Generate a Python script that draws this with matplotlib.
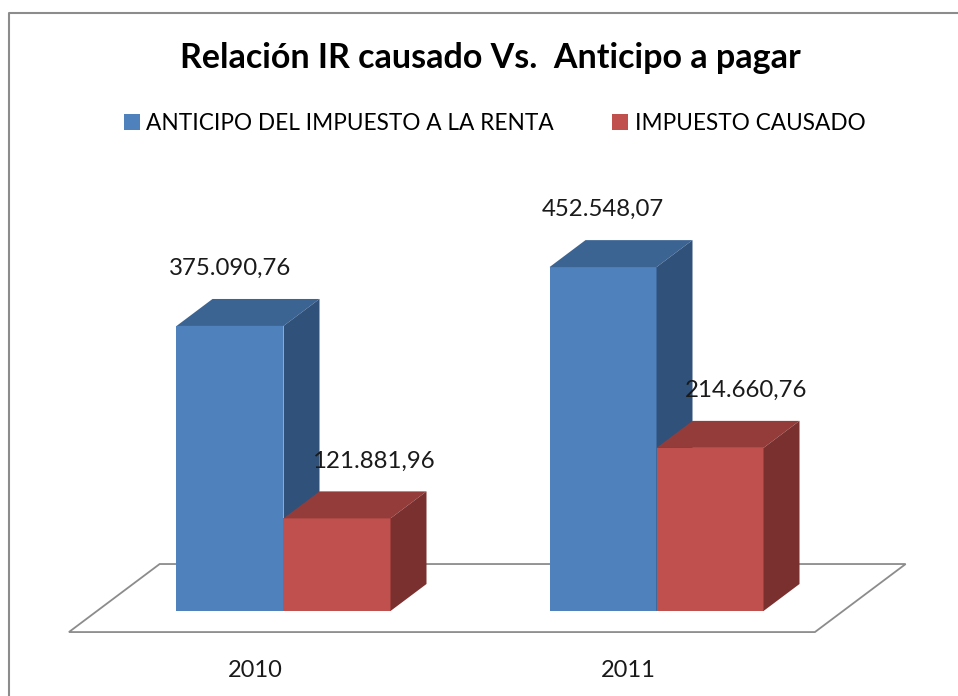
import matplotlib
matplotlib.use("Agg")
import matplotlib.pyplot as plt
from matplotlib.patches import Polygon, Patch
from matplotlib.lines import Line2D

# --- datos ---
years = ["2010", "2011"]
anticipo = [375090.76, 452548.07]
causado = [121881.96, 214660.76]
series_names = ["ANTICIPO DEL IMPUESTO A LA RENTA", "IMPUESTO CAUSADO"]
title = "Relación IR causado Vs.  Anticipo a pagar"

# colores estilo Excel 2007: frente, tapa, lado
colors = [("#4F81BD", "#3C6493", "#30527A"),
          ("#C0504D", "#933C3A", "#7A302F")]

W, H = 958, 696
X0_PX, UNIT_PX = 283.5, 373.0     # centro del grupo 2010 y separacion entre grupos
BASE_PX, VAL_PER_PX = 611.0, 1316.0

bar_w = 107 / UNIT_PX
ddx, ddy = 36 / UNIT_PX, 27 * VAL_PER_PX   # profundidad de las barras
floor_front, floor_back = -0.78, 1.74      # profundidad del piso (en unidades de barra)


def fmt(v):
    s = f"{v:,.2f}"
    return s.replace(",", "X").replace(".", ",").replace("X", ".")


plt.rcParams['font.family'] = ['Lato', 'DejaVu Sans']
fig = plt.figure(figsize=(W / 100, H / 100), dpi=100)
ax = fig.add_axes([0, 0, 1, 1])
ax.set_xlim(-X0_PX / UNIT_PX, (W - X0_PX) / UNIT_PX)
ax.set_ylim(-(H - BASE_PX) * VAL_PER_PX, BASE_PX * VAL_PER_PX)
ax.axis('off')

# marco del grafico
fx, fy = 8.5 / W, 1 - 13 / H
fig.add_artist(Line2D([fx, fx, 1.0], [0.0, fy, fy], transform=fig.transFigure,
                      color="#8c8c8c", lw=1.5))

# piso
n = len(years)
x_lo, x_hi = -0.5, n - 0.5
floor = [(x_lo + floor_front * ddx, floor_front * ddy),
         (x_hi + floor_front * ddx, floor_front * ddy),
         (x_hi + floor_back * ddx, floor_back * ddy),
         (x_lo + floor_back * ddx, floor_back * ddy)]
ax.add_patch(Polygon(floor, closed=True, facecolor="white", edgecolor="#8c8c8c",
                     lw=1.3, zorder=1))

# barras 3D
label_dx = [0.0, 36 / UNIT_PX]
for s, vals in enumerate([anticipo, causado]):
    front, top, side = colors[s]
    xs = [i + (s - 0.5) * bar_w for i in range(n)]
    ax.bar(xs, vals, width=bar_w, color=front, zorder=2 + s * 2, linewidth=0)
    for x, v in zip(xs, vals):
        l, r = x - bar_w / 2, x + bar_w / 2
        ax.add_patch(Polygon([(l, v), (r, v), (r + ddx, v + ddy), (l + ddx, v + ddy)],
                             closed=True, facecolor=top, lw=0, zorder=3 + s * 2))
        ax.add_patch(Polygon([(r, 0), (r + ddx, ddy), (r + ddx, v + ddy), (r, v)],
                             closed=True, facecolor=side, lw=0, zorder=3 + s * 2))
        ax.text(x + label_dx[s], v + 51 * VAL_PER_PX, fmt(v), ha='center', va='baseline',
                fontsize=17.3, color="#1a1a1a", zorder=10)

# etiquetas de categoria
for i, yr in enumerate(years):
    ax.text(i + floor_front * ddx, floor_front * ddy - 45 * VAL_PER_PX, yr,
            ha='center', va='baseline', fontsize=17, color="#1a1a1a")

fig.text(490 / W, 1 - 68 / H, title, ha='center', va='baseline',
         fontsize=24.5, fontweight='bold', color="black")

handles = [Patch(facecolor=c[0], edgecolor='none') for c in colors]
fig.legend(handles, series_names, loc='center', bbox_to_anchor=(494.5 / W, 1 - 123 / H),
           ncol=2, frameon=False, fontsize=16.3, handlelength=0.72, handleheight=0.72,
           handletextpad=0.28, columnspacing=2.55, borderpad=0)

fig.savefig("out.png", dpi=100, facecolor="white")
